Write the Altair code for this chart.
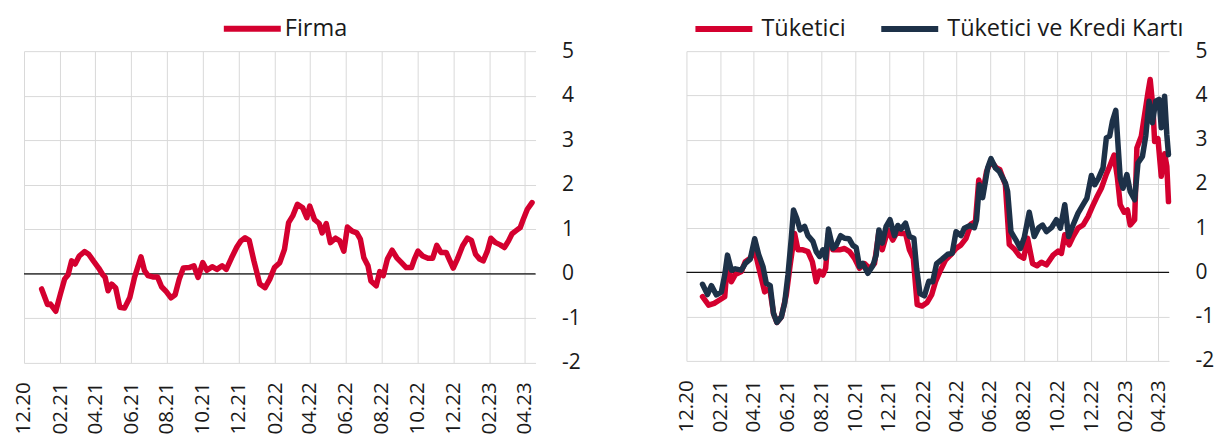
import altair as alt
import pandas as pd

BASE = pd.Timestamp("2020-12-01")

# ---- Firma (left panel): days since 2020-12-01, value ----
firma_days = [30,40,45,54,62,69,75,81,87,94,103,110,118,127,134,138,143,149,156,163,
              171,180,188,199,205,211,219,227,234,242,250,257,264,271,281,289,296,304,311,320,
              328,337,344,353,362,369,376,383,391,401,410,418,426,435,443,450,457,465,474,481,
              486,494,502,507,514,521,530,537,544,550,558,566,572,578,585,590,599,605,611,618,
              626,634,642,650,659,664,670,678,687,695,702,709,718,723,730,737,746,754,761,768,
              775,781,788,794,802,810,817,824,830,838,844,849,856,864]
firma_vals = [-0.34,-0.69,-0.68,-0.84,-0.45,-0.12,-0.02,0.29,0.22,0.40,0.50,0.44,0.29,0.13,-0.02,-0.08,-0.38,-0.23,-0.32,-0.75,
              -0.77,-0.53,-0.08,0.38,0.07,-0.04,-0.07,-0.07,-0.29,-0.40,-0.54,-0.47,-0.12,0.13,0.14,0.18,-0.08,0.25,0.08,0.16,
              0.10,0.18,0.10,0.36,0.60,0.74,0.81,0.75,0.29,-0.23,-0.31,-0.12,0.14,0.25,0.55,1.15,1.30,1.56,1.48,1.26,
              1.52,1.22,1.13,0.92,1.13,0.70,0.80,0.74,0.51,1.05,0.96,0.92,0.78,0.36,0.18,-0.16,-0.27,0.05,-0.04,0.33,
              0.53,0.36,0.25,0.14,0.14,0.33,0.51,0.40,0.35,0.35,0.64,0.48,0.48,0.33,0.13,0.33,0.63,0.80,0.75,0.44,
              0.33,0.29,0.51,0.80,0.70,0.65,0.59,0.74,0.90,0.98,1.04,1.22,1.45,1.60]

# ---- Tüketici (right panel, red) ----
tuk_days = [29,40,50,59,69,74,81,88,99,106,115,123,130,141,150,157,163,171,180,187,
            195,201,210,219,227,234,240,246,251,256,264,276,285,294,303,312,321,330,339,347,
            353,363,372,380,387,395,402,409,416,425,434,442,449,458,467,476,486,495,504,513,
            521,527,534,541,549,558,565,575,582,591,600,608,615,624,632,640,649,661,670,676,
            682,690,697,706,715,724,732,739,748,757,763,771,777,782,789,795,800,808,812,820,
            826,832,836,841,844,850,856,862,866,869]
tuk_vals = [-0.55,-0.74,-0.70,-0.63,-0.55,0.24,-0.21,-0.05,0.02,0.24,0.32,0.51,0.13,-0.44,-0.35,-0.93,-1.13,-1.01,-0.51,0.17,
            0.88,0.51,0.51,0.47,0.24,-0.21,0.03,-0.06,0.09,0.88,0.51,0.51,0.54,0.47,0.32,0.09,0.20,0.09,0.20,0.92,
            0.51,0.96,0.73,0.92,0.88,0.88,0.51,0.32,-0.73,-0.76,-0.68,-0.51,-0.21,0.05,0.28,0.39,0.54,0.62,0.77,1.09,
            1.15,2.09,1.79,2.28,2.52,2.37,2.32,1.98,0.63,0.53,0.38,0.32,0.77,0.20,0.15,0.23,0.17,0.39,0.48,0.43,
            0.85,0.62,0.81,1.00,1.07,1.26,1.49,1.68,1.90,2.22,2.40,2.65,2.13,1.53,1.36,1.41,1.07,1.19,2.81,3.08,
            3.57,4.06,4.36,3.72,2.96,3.02,2.17,2.68,2.40,1.60]

# ---- Tüketici ve Kredi Kartı (right panel, navy) ----
kart_days = [29,38,45,54,63,69,74,81,88,99,106,115,123,130,138,144,151,157,163,171,
             177,183,189,193,199,205,213,219,228,234,240,246,251,256,264,270,278,285,293,300,
             306,312,318,327,336,342,347,353,360,367,375,381,387,395,402,410,415,421,429,437,
             444,451,461,471,479,486,495,501,511,519,523,528,534,539,543,549,557,564,575,579,
             585,594,602,609,618,627,635,642,649,658,667,674,682,689,697,706,715,722,730,736,
             743,751,757,763,768,774,778,782,787,794,800,808,814,822,828,834,840,846,852,856,
             862,866,869]
kart_vals = [-0.27,-0.50,-0.30,-0.51,-0.44,-0.06,0.39,0.05,0.08,0.05,0.20,0.30,0.76,0.41,0.13,-0.25,-0.30,-0.93,-1.13,-1.01,
             -0.70,-0.06,0.77,1.41,1.22,0.96,1.04,0.83,0.70,0.47,0.36,0.51,0.32,0.98,0.54,0.61,0.83,0.77,0.76,0.61,
             0.56,0.13,0.20,-0.02,0.15,0.39,0.96,0.66,1.04,1.19,0.83,1.06,0.98,1.11,0.81,0.77,0.09,-0.48,-0.53,-0.20,
             -0.21,0.20,0.30,0.41,0.43,0.92,0.83,1.00,1.06,1.01,1.19,1.98,1.69,2.06,2.36,2.57,2.36,2.28,2.02,1.83,
             0.92,0.73,0.54,0.79,1.36,0.81,1.01,1.07,0.92,1.01,1.19,1.00,1.53,0.81,1.07,1.34,1.53,1.68,2.19,1.98,
             2.13,2.36,3.04,3.08,3.42,3.66,2.89,2.13,1.90,2.21,1.83,1.64,2.47,2.62,3.08,3.87,3.38,3.87,3.91,3.27,
             3.98,3.11,2.66]

tick_months = [(2020,12),(2021,2),(2021,4),(2021,6),(2021,8),(2021,10),(2021,12),
               (2022,2),(2022,4),(2022,6),(2022,8),(2022,10),(2022,12),(2023,2),(2023,4)]
y_ticks = [-2,-1,0,1,2,3,4,5]
S_FIRMA = "Firma"
S_TUK = "Tüketici"
S_KART = "Tüketici ve Kredi Kartı"
RED = "#D4002F"
NAVY = "#1D3148"
FONT = "Open Sans"
TXT = "#1a1a1a"
GRID = "#d9d9d9"


def to_dates(days):
    return [(BASE + pd.Timedelta(days=d)).strftime("%Y-%m-%d") for d in days]


df_left = pd.DataFrame({"date": to_dates(firma_days), "value": firma_vals, "series": S_FIRMA})
df_right = pd.concat([
    pd.DataFrame({"date": to_dates(tuk_days), "value": tuk_vals, "series": S_TUK}),
    pd.DataFrame({"date": to_dates(kart_days), "value": kart_vals, "series": S_KART}),
], ignore_index=True)

x_values = [alt.DateTime(year=y, month=m, date=1, utc=True) for y, m in tick_months]
x_scale = alt.Scale(type="utc",
                    domain=[alt.DateTime(year=2020, month=12, date=1, utc=True),
                            alt.DateTime(year=2023, month=4, date=20, utc=True)])
x_axis = alt.Axis(values=x_values, format="%m.%y", labelAngle=270, labelAlign="right",
                  labelBaseline="middle", labelPadding=19, ticks=False, domain=False,
                  grid=True, gridColor=GRID, gridWidth=1, labelFlush=False,
                  labelOverlap=False, labelBound=False, title=None,
                  labelFont=FONT, labelFontSize=20.5, labelColor=TXT)
y_scale = alt.Scale(domain=[-2, 5], nice=False, zero=False)
y_axis = alt.Axis(orient="right", values=y_ticks, labelExpr="datum.value", ticks=False, domain=False,
                  grid=True, gridColor=GRID, gridWidth=1, labelAlign="left",
                  labelPadding=26, title=None, labelFont=FONT, labelFontSize=21,
                  labelColor=TXT, labelFlush=False)


def panel(df, domain, colors, w, h, lx, ly, label_offset, col_pad):
    legend = alt.Legend(orient="none", legendX=lx, legendY=ly, direction="horizontal",
                        title=None, symbolType="stroke", symbolSize=3249,
                        symbolStrokeWidth=6, labelFont=FONT, labelFontSize=23.5,
                        labelColor=TXT, labelOffset=label_offset, columnPadding=col_pad,
                        padding=0, labelLimit=0)
    lines = alt.Chart(df).mark_line(strokeWidth=5.5, strokeCap="round", strokeJoin="round").encode(
        x=alt.X("date:T", scale=x_scale, axis=x_axis),
        y=alt.Y("value:Q", scale=y_scale, axis=y_axis),
        color=alt.Color("series:N", scale=alt.Scale(domain=domain, range=colors), legend=legend),
        detail="series:N",
    )
    zero = alt.Chart(pd.DataFrame({"z": [0]})).mark_rule(color="#111111", strokeWidth=1.2).encode(
        y=alt.Y("z:Q", scale=y_scale, axis=y_axis)
    )
    return alt.layer(zero, lines).properties(width=w, height=h)


left = panel(df_left, [S_FIRMA], [RED], 512, 312, 197, -54, 1, 10)
right = panel(df_right, [S_TUK, S_KART], [RED, NAVY], 483, 310, 6, -54, 6, 23)

chart = alt.hconcat(left, right, spacing=96).resolve_scale(
    x="independent", y="independent", color="independent"
).resolve_legend(color="independent").configure_view(stroke=None).properties(
    padding={"left": 6, "top": -11, "right": 0, "bottom": 0}
)

chart.save("out.html", embed_options={"renderer": "svg", "actions": False})
